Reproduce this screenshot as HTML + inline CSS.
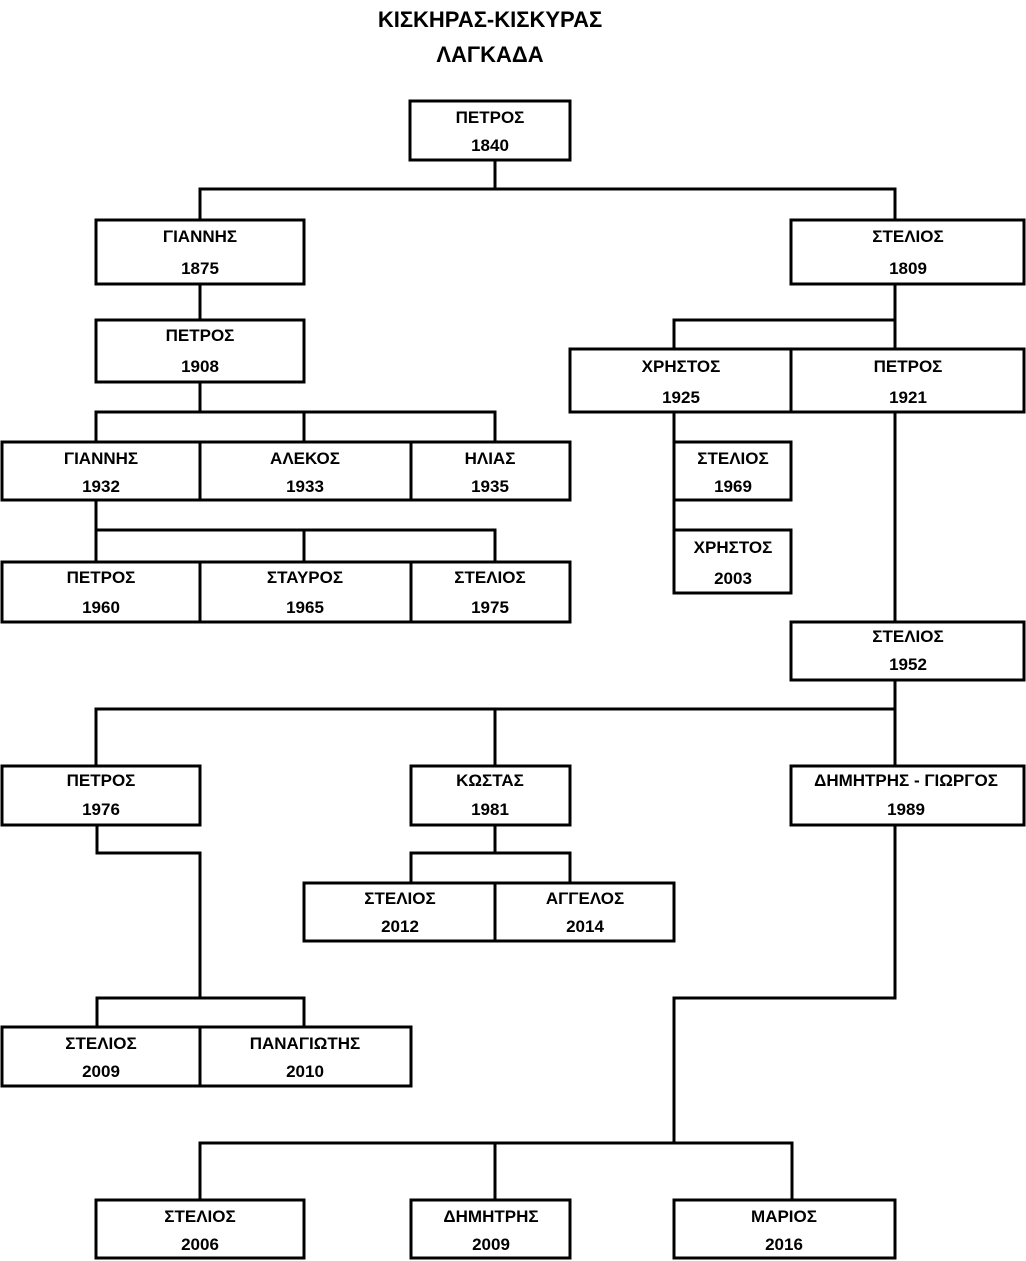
<!DOCTYPE html>
<html><head><meta charset="utf-8"><style>
html,body{margin:0;padding:0;background:#fff;}
svg{display:block;}
text{font-family:"Liberation Sans",sans-serif;font-weight:bold;fill:#000;text-anchor:middle;}
.t{font-size:22px;}
.n{font-size:17px;}
</style></head><body>
<svg width="1026" height="1261" viewBox="0 0 1026 1261" xmlns="http://www.w3.org/2000/svg">
<text class="t" x="490" y="27">ΚΙΣΚΗΡΑΣ-ΚΙΣΚΥΡΑΣ</text>
<text class="t" x="490" y="62">ΛΑΓΚΑΔΑ</text>
<g stroke="#000" stroke-width="3" fill="none" stroke-linecap="square">
<polyline points="495,160 495,189"/>
<polyline points="200,220 200,189 895,189 895,220"/>
<line x1="200" y1="284" x2="200" y2="320"/>
<line x1="200" y1="382" x2="200" y2="412"/>
<polyline points="96,442 96,412 495,412 495,442"/>
<line x1="304" y1="412" x2="304" y2="442"/>
<line x1="96" y1="500" x2="96" y2="530"/>
<polyline points="96,562 96,530 495,530 495,562"/>
<line x1="304" y1="530" x2="304" y2="562"/>
<line x1="895" y1="284" x2="895" y2="349"/>
<polyline points="674,349 674,320 895,320"/>
<line x1="674" y1="412" x2="674" y2="593"/>
<line x1="895" y1="412" x2="895" y2="622"/>
<line x1="895" y1="680" x2="895" y2="766"/>
<polyline points="96,766 96,709 895,709"/>
<line x1="495" y1="709" x2="495" y2="766"/>
<line x1="495" y1="825" x2="495" y2="853"/>
<polyline points="411,883 411,853 570,853 570,883"/>
<polyline points="97,825 97,853 200,853 200,998"/>
<polyline points="97,1027 97,998 304,998 304,1027"/>
<polyline points="895,825 895,998 674,998 674,1143"/>
<polyline points="200,1200 200,1143 792,1143 792,1200"/>
<line x1="495" y1="1143" x2="495" y2="1200"/>
<rect x="410" y="101" width="160" height="59"/>
<rect x="96" y="220" width="208" height="64"/>
<rect x="791" y="220" width="233" height="64"/>
<rect x="96" y="320" width="208" height="62"/>
<rect x="2" y="442" width="198" height="58"/>
<rect x="200" y="442" width="211" height="58"/>
<rect x="411" y="442" width="159" height="58"/>
<rect x="2" y="562" width="198" height="60"/>
<rect x="200" y="562" width="211" height="60"/>
<rect x="411" y="562" width="159" height="60"/>
<rect x="570" y="349" width="221" height="63"/>
<rect x="791" y="349" width="233" height="63"/>
<rect x="674" y="442" width="117" height="58"/>
<rect x="674" y="530" width="117" height="63"/>
<rect x="791" y="622" width="233" height="58"/>
<rect x="2" y="766" width="198" height="59"/>
<rect x="411" y="766" width="159" height="59"/>
<rect x="791" y="766" width="233" height="59"/>
<rect x="304" y="883" width="191" height="58"/>
<rect x="495" y="883" width="179" height="58"/>
<rect x="2" y="1027" width="198" height="59"/>
<rect x="200" y="1027" width="211" height="59"/>
<rect x="96" y="1200" width="208" height="58"/>
<rect x="411" y="1200" width="159" height="58"/>
<rect x="674" y="1200" width="221" height="58"/>
</g>
<g>
<text class="n" x="490" y="123">ΠΕΤΡΟΣ</text><text class="n" x="490" y="151">1840</text>
<text class="n" x="200" y="242">ΓΙΑΝΝΗΣ</text><text class="n" x="200" y="274">1875</text>
<text class="n" x="908" y="242">ΣΤΕΛΙΟΣ</text><text class="n" x="908" y="274">1809</text>
<text class="n" x="200" y="341">ΠΕΤΡΟΣ</text><text class="n" x="200" y="372">1908</text>
<text class="n" x="101" y="464">ΓΙΑΝΝΗΣ</text><text class="n" x="101" y="492">1932</text>
<text class="n" x="305" y="464">ΑΛΕΚΟΣ</text><text class="n" x="305" y="492">1933</text>
<text class="n" x="490" y="464">ΗΛΙΑΣ</text><text class="n" x="490" y="492">1935</text>
<text class="n" x="101" y="583">ΠΕΤΡΟΣ</text><text class="n" x="101" y="613">1960</text>
<text class="n" x="305" y="583">ΣΤΑΥΡΟΣ</text><text class="n" x="305" y="613">1965</text>
<text class="n" x="490" y="583">ΣΤΕΛΙΟΣ</text><text class="n" x="490" y="613">1975</text>
<text class="n" x="681" y="372">ΧΡΗΣΤΟΣ</text><text class="n" x="681" y="403">1925</text>
<text class="n" x="908" y="372">ΠΕΤΡΟΣ</text><text class="n" x="908" y="403">1921</text>
<text class="n" x="733" y="464">ΣΤΕΛΙΟΣ</text><text class="n" x="733" y="492">1969</text>
<text class="n" x="733" y="553">ΧΡΗΣΤΟΣ</text><text class="n" x="733" y="584">2003</text>
<text class="n" x="908" y="642">ΣΤΕΛΙΟΣ</text><text class="n" x="908" y="670">1952</text>
<text class="n" x="101" y="786">ΠΕΤΡΟΣ</text><text class="n" x="101" y="815">1976</text>
<text class="n" x="490" y="786">ΚΩΣΤΑΣ</text><text class="n" x="490" y="815">1981</text>
<text class="n" x="906" y="786">ΔΗΜΗΤΡΗΣ - ΓΙΩΡΓΟΣ</text><text class="n" x="906" y="815">1989</text>
<text class="n" x="400" y="904">ΣΤΕΛΙΟΣ</text><text class="n" x="400" y="932">2012</text>
<text class="n" x="585" y="904">ΑΓΓΕΛΟΣ</text><text class="n" x="585" y="932">2014</text>
<text class="n" x="101" y="1049">ΣΤΕΛΙΟΣ</text><text class="n" x="101" y="1077">2009</text>
<text class="n" x="305" y="1049">ΠΑΝΑΓΙΩΤΗΣ</text><text class="n" x="305" y="1077">2010</text>
<text class="n" x="200" y="1222">ΣΤΕΛΙΟΣ</text><text class="n" x="200" y="1250">2006</text>
<text class="n" x="491" y="1222">ΔΗΜΗΤΡΗΣ</text><text class="n" x="491" y="1250">2009</text>
<text class="n" x="784" y="1222">ΜΑΡΙΟΣ</text><text class="n" x="784" y="1250">2016</text>
</g>
</svg>
</body></html>
